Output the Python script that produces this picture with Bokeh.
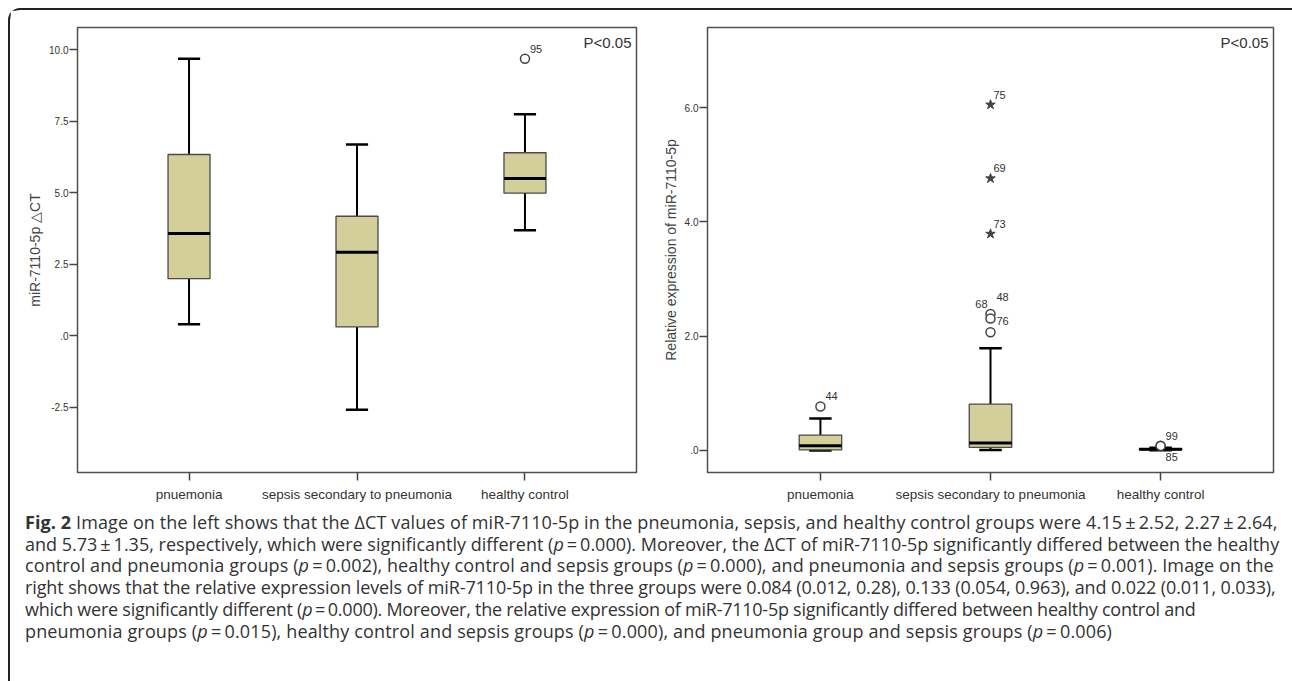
import numpy as np
from bokeh.plotting import figure
from bokeh.models import Range1d, FixedTicker, CustomJSTickFormatter, Div, ColumnDataSource
from bokeh.layouts import row, column
from bokeh.embed import file_html
from bokeh.resources import INLINE
from bokeh.core.properties import value

# ---------------- data ----------------
categories = ["pnuemonia", "sepsis secondary to pneumonia", "healthy control"]

# left panel: miR-7110-5p delta CT
dct_low = [0.40, -2.59, 3.69]
dct_q1 = [2.00, 0.31, 4.99]
dct_med = [3.58, 2.92, 5.50]
dct_q3 = [6.34, 4.18, 6.40]
dct_high = [9.69, 6.69, 7.75]
dct_out_cat = [2]
dct_out_val = [9.69]
dct_out_kind = ["circle"]
dct_out_lab = ["95"]
dct_ticks = [-2.5, 0.0, 2.5, 5.0, 7.5, 10.0]

# right panel: relative expression of miR-7110-5p
rel_low = [0.00, 0.01, 0.004]
rel_q1 = [0.012, 0.054, 0.011]
rel_med = [0.084, 0.133, 0.022]
rel_q3 = [0.27, 0.81, 0.033]
rel_high = [0.56, 1.79, 0.05]
rel_out_cat = [0, 1, 1, 1, 1, 1, 1, 2, 2]
rel_out_val = [0.77, 6.05, 4.76, 3.79, 2.39, 2.31, 2.07, 0.085, 0.08]
rel_out_kind = ["circle", "star", "star", "star", "circle", "circle", "circle", "circle", "circle"]
rel_out_lab = ["44", "75", "69", "73", "48", "68", "76", "99", "85"]
rel_ticks = [0.0, 2.0, 4.0, 6.0]

# label placement (styling, screen px)
dct_lab_dx = [5]
dct_lab_dy = [-10]
dct_lab_align = ["left"]
rel_lab_dx = [5, 3, 3, 3, 6, -3, 6, 5, 5]
rel_lab_dy = [-10, -10, -10, -10, -17, -14, -11, -10, 11]
rel_lab_align = ["left", "left", "left", "left", "left", "right", "left", "left", "left"]

SANS = "Liberation Sans"
BOX_FILL = "#d3cf9b"


def make_panel(width, height, mbl, mbr, yr, ticks, ylabel,
               low, q1, med, q3, high, ocat, oval, okind, olab, dx, dy, align):
    p = figure(width=width, height=height, output_backend="svg", toolbar_location=None,
               x_range=Range1d(-0.664, 2.664), y_range=Range1d(*yr),
               min_border_left=mbl, min_border_right=mbr, min_border_top=17,
               min_border_bottom=33, background_fill_color="white",
               border_fill_color="white")
    p.xgrid.visible = False
    p.ygrid.visible = False
    p.outline_line_color = "#505050"
    p.outline_line_width = 1.5

    xs = np.arange(len(categories), dtype=float)
    src = ColumnDataSource(dict(x=xs, low=low, q1=q1, med=med, q3=q3, high=high))
    bw = 0.25
    cw = 0.066
    # whiskers
    p.segment(x0="x", y0="q3", x1="x", y1="high", source=src, line_color="black", line_width=2)
    p.segment(x0="x", y0="low", x1="x", y1="q1", source=src, line_color="black", line_width=2)
    cap_src = ColumnDataSource(dict(x0=xs - cw, x1=xs + cw, low=low, high=high))
    p.segment(x0="x0", y0="high", x1="x1", y1="high", source=cap_src, line_color="black", line_width=2.5)
    p.segment(x0="x0", y0="low", x1="x1", y1="low", source=cap_src, line_color="black", line_width=2.5)
    # boxes
    p.vbar(x="x", width=bw, bottom="q1", top="q3", source=src, fill_color=BOX_FILL,
           line_color="#4a4a4a", line_width=1.3)
    med_src = ColumnDataSource(dict(x0=xs - bw / 2, x1=xs + bw / 2, med=med))
    p.segment(x0="x0", y0="med", x1="x1", y1="med", source=med_src, line_color="black", line_width=3)

    # outliers
    ocat = np.array(ocat, dtype=float)
    oval = np.array(oval, dtype=float)
    okind = np.array(okind)
    ci = okind == "circle"
    si = okind == "star"
    if ci.any():
        p.scatter(ocat[ci], oval[ci], marker="circle", size=9, fill_color="white",
                  line_color="#444444", line_width=1.5)
    if si.any():
        p.scatter(ocat[si], oval[si], marker="star", size=10, fill_color="#444444",
                  line_color="#444444", line_width=1)
    lab_src = ColumnDataSource(dict(x=ocat, y=oval, t=olab, dx=dx, dy=dy, al=align))
    p.text(x="x", y="y", text="t", x_offset="dx", y_offset="dy", text_align="al",
           source=lab_src, text_baseline="middle", text_font=value(SANS),
           text_font_size="11px", text_color="#333333")

    # P<0.05
    p.text(x=[2.664], y=[yr[1]], text=["P<0.05"], x_offset=-5, y_offset=15,
           text_align="right", text_baseline="middle", text_font=value(SANS),
           text_font_size="15px", text_color="#333333")

    # axes
    xa = p.xaxis[0]
    xa.ticker = FixedTicker(ticks=list(xs))
    xa.major_label_overrides = {0: categories[0], 1: categories[1], 2: categories[2]}
    ya = p.yaxis[0]
    ya.ticker = FixedTicker(ticks=ticks)
    ya.formatter = CustomJSTickFormatter(code="""
        let s = tick.toFixed(1);
        if (s.startsWith('0')) { s = s.slice(1); }
        return s;
    """)
    for ax in (xa, ya):
        ax.axis_line_color = None
        ax.major_tick_in = 0
        ax.major_tick_out = 8
        ax.minor_tick_line_color = None
        ax.major_tick_line_color = "#444444"
        ax.major_tick_line_width = 1.5
        ax.major_label_text_font = SANS
        ax.major_label_text_color = "#333333"
    xa.major_label_text_font_size = "13.5px"
    xa.major_label_standoff = 6
    ya.major_label_text_font_size = "10px"
    ya.major_label_standoff = 1
    ya.axis_label = ylabel
    ya.axis_label_text_font = SANS
    ya.axis_label_text_font_size = "14px"
    ya.axis_label_text_font_style = "normal"
    ya.axis_label_text_color = "#444444"
    ya.axis_label_standoff = 3
    return p


p1 = make_panel(640, 495, 67, 14, (-4.78, 10.78), dct_ticks, "miR-7110-5p \u25b3CT",
                dct_low, dct_q1, dct_med, dct_q3, dct_high,
                dct_out_cat, dct_out_val, dct_out_kind, dct_out_lab,
                dct_lab_dx, dct_lab_dy, dct_lab_align)
p2 = make_panel(640, 495, 57, 17, (-0.385, 7.40), rel_ticks, "Relative expression of miR-7110-5p",
                rel_low, rel_q1, rel_med, rel_q3, rel_high,
                rel_out_cat, rel_out_val, rel_out_kind, rel_out_lab,
                rel_lab_dx, rel_lab_dy, rel_lab_align)

ts = "\u2009"
pe = f"(<i>p</i>{ts}={ts}"
caption_lines = [
    f"<b>Fig. 2</b> Image on the left shows that the \u0394CT values of miR-7110-5p in the pneumonia, sepsis, and healthy control groups were 4.15{ts}\u00b1{ts}2.52, 2.27{ts}\u00b1{ts}2.64,",
    f"and 5.73{ts}\u00b1{ts}1.35, respectively, which were significantly different {pe}0.000). Moreover, the \u0394CT of miR-7110-5p significantly differed between the healthy",
    f"control and pneumonia groups {pe}0.002), healthy control and sepsis groups {pe}0.000), and pneumonia and sepsis groups {pe}0.001). Image on the",
    "right shows that the relative expression levels of miR-7110-5p in the three groups were 0.084 (0.012, 0.28), 0.133 (0.054, 0.963), and 0.022 (0.011, 0.033),",
    f"which were significantly different {pe}0.000). Moreover, the relative expression of miR-7110-5p significantly differed between healthy control and",
    f"pneumonia groups {pe}0.015), healthy control and sepsis groups {pe}0.000), and pneumonia group and sepsis groups {pe}0.006)",
]
line_spacing = [0.1, 0.0, 0.1, -0.11, -0.25, 0.15]
caption_html = (
    "<div style=\"font-family:'Open Sans',sans-serif;font-size:18px;line-height:21.7px;"
    "color:#333333;padding-left:10px;padding-top:2px;white-space:nowrap\">"
    + "<br>".join(f"<span style=\"letter-spacing:{ls}px\">{t}</span>"
                  for t, ls in zip(caption_lines, line_spacing))
    + "</div>"
)
cap = Div(text=caption_html, width=1280, height=168)

layout = column(row(p1, p2), cap, margin=(8, 0, 0, 8),
                styles={"border-top": "2px solid #222222", "border-left": "2px solid #222222",
                        "border-top-left-radius": "12px", "background-color": "white"})

open("out.html", "w").write(file_html(layout, INLINE))
